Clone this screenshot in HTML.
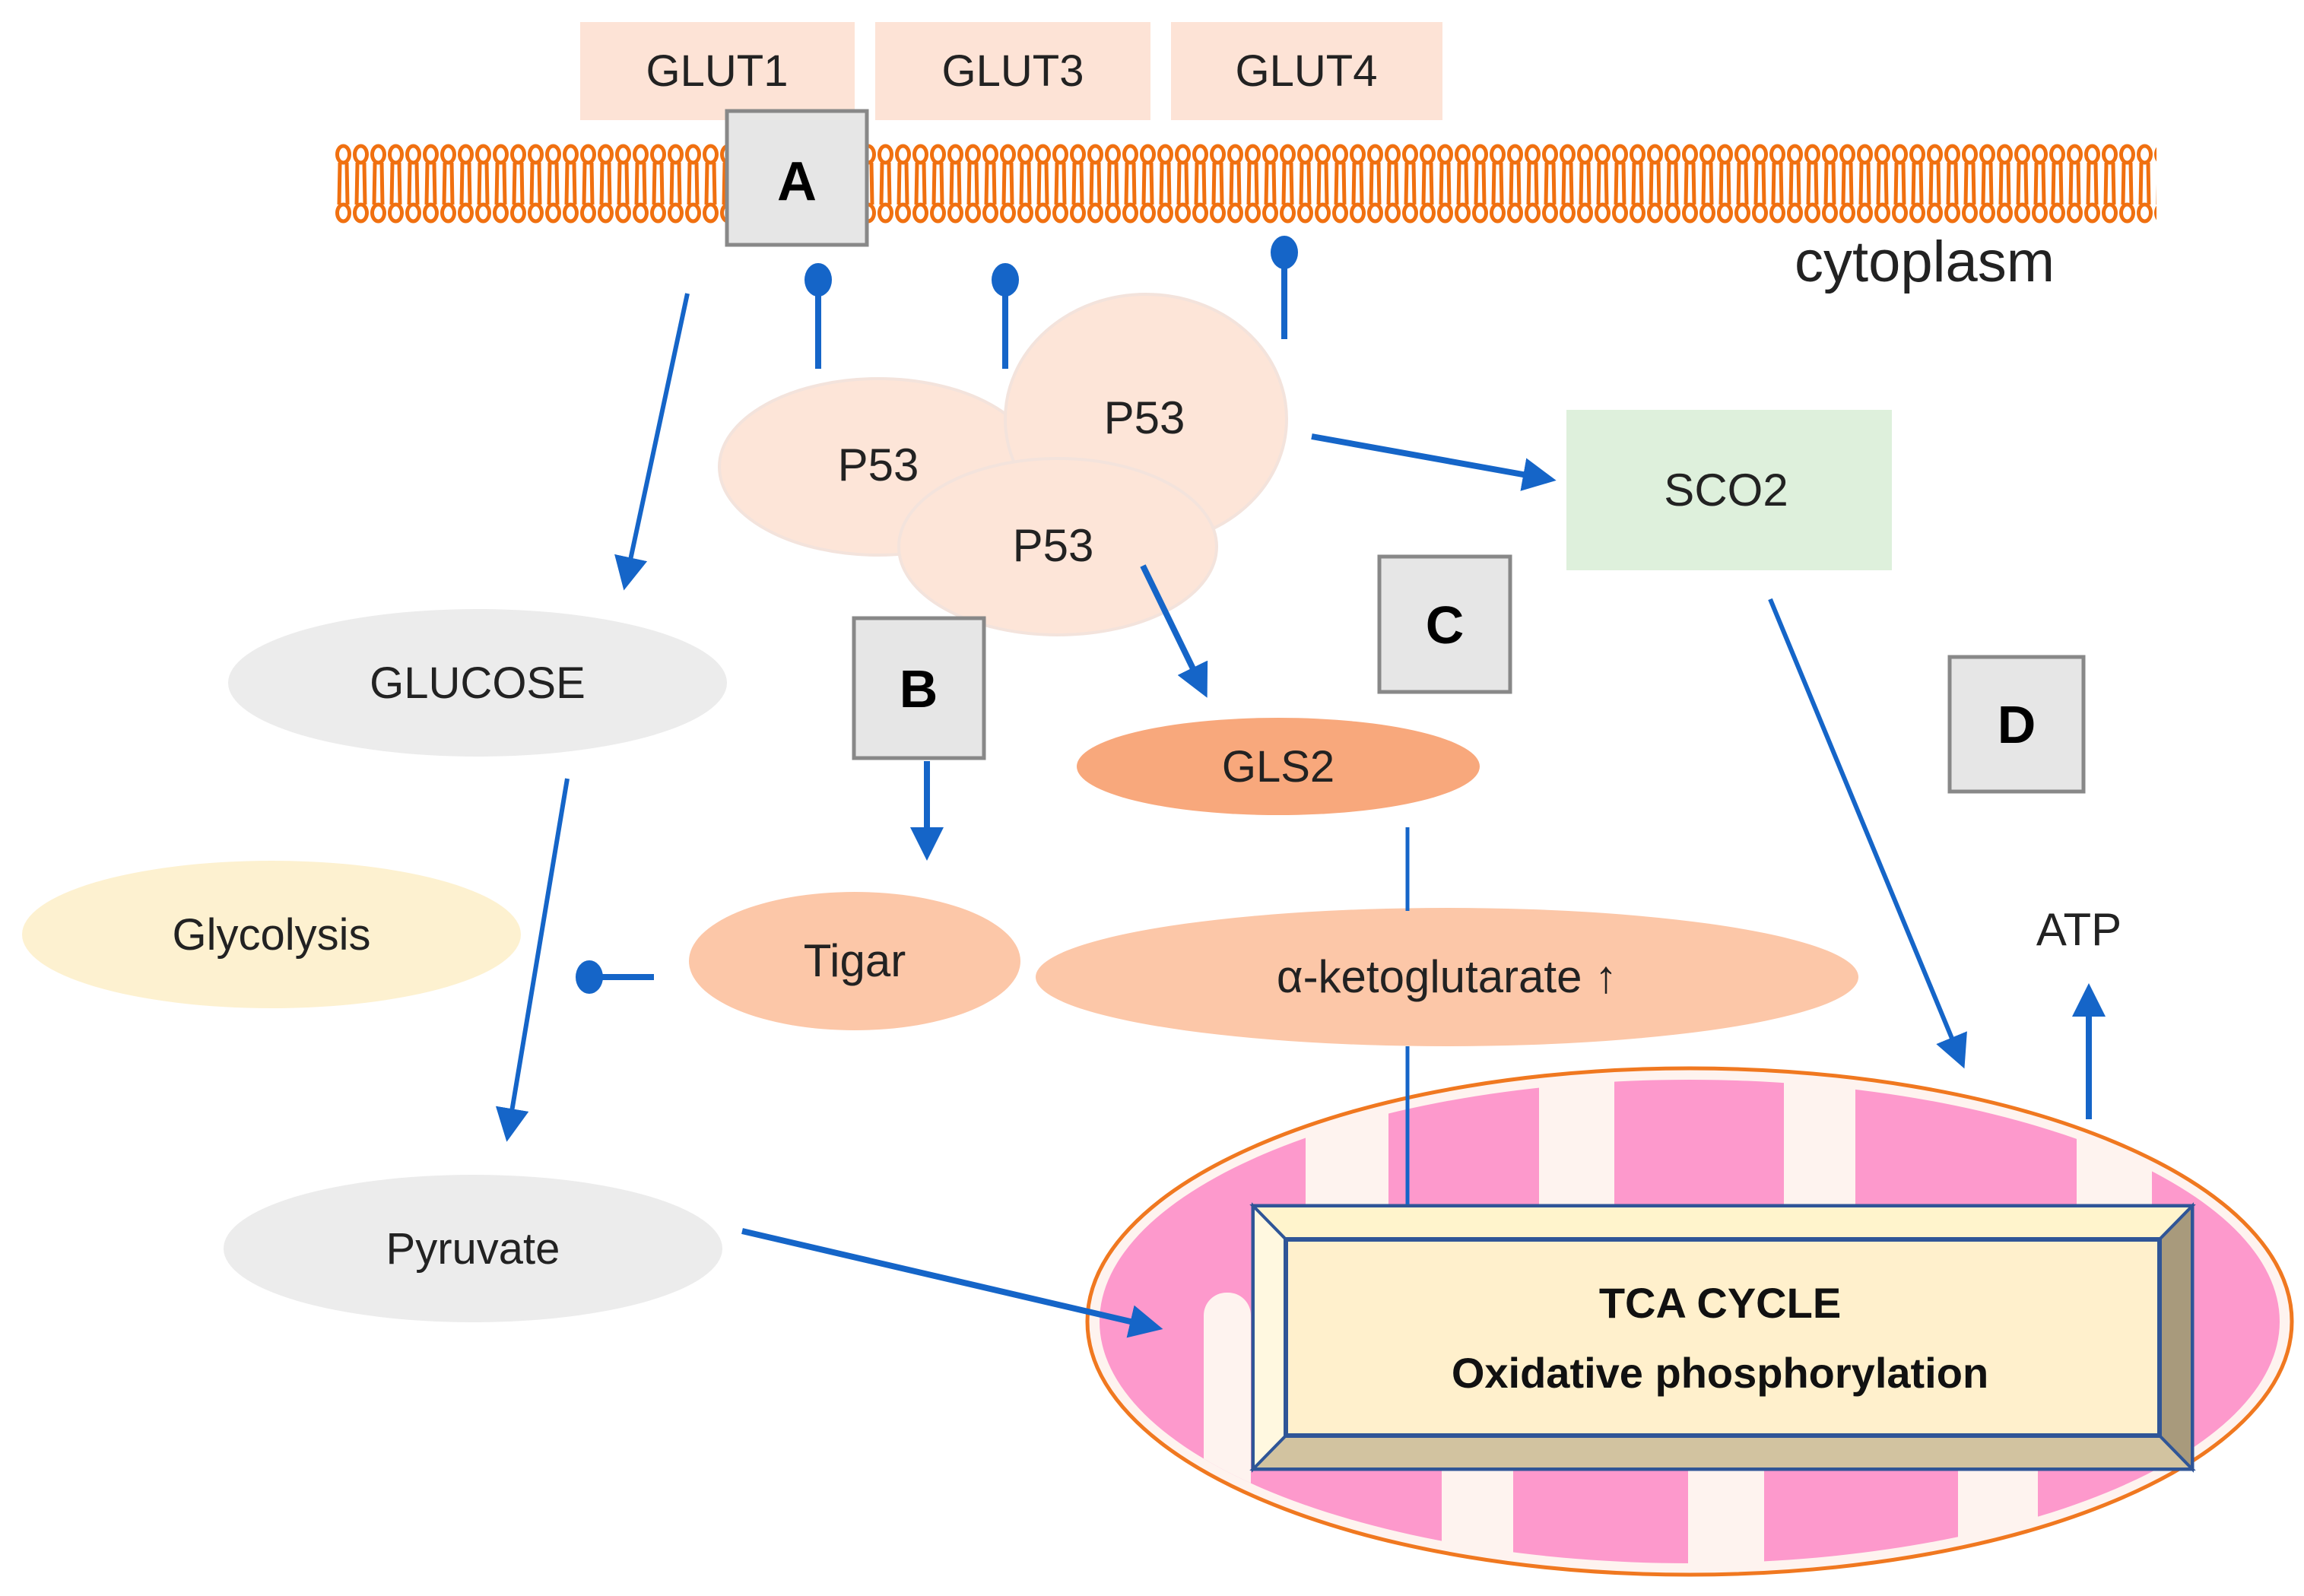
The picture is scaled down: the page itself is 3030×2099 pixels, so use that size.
<!DOCTYPE html>
<html><head><meta charset="utf-8"><style>html,body{margin:0;padding:0;background:#fff}svg{display:block}</style></head>
<body>
<svg width="3030" height="2099" viewBox="0 0 3030 2099" xmlns="http://www.w3.org/2000/svg" font-family="Liberation Sans, sans-serif">
<defs>
<pattern id="lip" x="440" y="0" width="23" height="2099" patternUnits="userSpaceOnUse">
<ellipse cx="11.5" cy="203" rx="8" ry="11" fill="#fff" stroke="#f07010" stroke-width="5"/>
<ellipse cx="11.5" cy="280" rx="8" ry="11" fill="#fff" stroke="#f07010" stroke-width="5"/>
<path d="M7 214 L6 269 M16 214 L17 269" stroke="#f07010" stroke-width="5"/>
</pattern>
<clipPath id="mc"><ellipse cx="2222" cy="1738" rx="776" ry="318"/></clipPath>
<marker id="ar" markerWidth="44" markerHeight="44" refX="5" refY="5" orient="auto" markerUnits="userSpaceOnUse" viewBox="0 0 10 10"><path d="M0 0 L10 5 L0 10 z" fill="#1565c8"/></marker>
</defs>
<rect x="763" y="29" width="361" height="129" fill="#fde3d6"/>
<rect x="1151" y="29" width="362" height="129" fill="#fde3d6"/>
<rect x="1540" y="29" width="357" height="129" fill="#fde3d6"/>
<g font-size="58" fill="#222" text-anchor="middle">
<text x="943" y="113">GLUT1</text><text x="1332" y="113">GLUT3</text><text x="1718" y="113">GLUT4</text>
</g>
<rect x="440" y="188" width="2396" height="106" fill="url(#lip)"/>
<rect x="956" y="146" width="184" height="176" fill="#e6e6e6" stroke="#888" stroke-width="5"/>
<text x="1048" y="263" font-size="72" font-weight="bold" text-anchor="middle">A</text>
<text x="2360" y="370" font-size="76" fill="#222">cytoplasm</text>
<g stroke="#1565c8" stroke-width="8" fill="#1565c8">
<line x1="1076" y1="485" x2="1076" y2="372"/><ellipse cx="1076" cy="368" rx="18" ry="22" stroke="none"/>
<line x1="1322" y1="485" x2="1322" y2="372"/><ellipse cx="1322" cy="368" rx="18" ry="22" stroke="none"/>
<line x1="1689" y1="446" x2="1689" y2="336"/><ellipse cx="1689" cy="332" rx="18" ry="22" stroke="none"/>
<line x1="860" y1="1285" x2="790" y2="1285"/><ellipse cx="775" cy="1285" rx="18" ry="22" stroke="none"/>
</g>
<g fill="#fde5d8" stroke="#f3e3dc" stroke-width="4">
<ellipse cx="1155" cy="614" rx="209" ry="116"/>
<ellipse cx="1507" cy="551" rx="185" ry="164"/>
<ellipse cx="1391" cy="719" rx="209" ry="116"/>
</g>
<g font-size="60" fill="#222" text-anchor="middle">
<text x="1155" y="632">P53</text><text x="1505" y="570">P53</text><text x="1385" y="738">P53</text>
</g>
<rect x="2060" y="539" width="428" height="211" fill="#def0dc"/>
<text x="2270" y="665" font-size="60" fill="#222" text-anchor="middle">SCO2</text>
<g fill="#e6e6e6" stroke="#888" stroke-width="5">
<rect x="1814" y="732" width="172" height="178"/>
<rect x="1123" y="813" width="171" height="184"/>
<rect x="2564" y="864" width="176" height="177"/>
</g>
<g font-size="70" font-weight="bold" text-anchor="middle">
<text x="1900" y="846">C</text><text x="1208" y="930">B</text><text x="2652" y="977">D</text>
</g>
<ellipse cx="628" cy="898" rx="328" ry="97" fill="#ececec"/>
<text x="628" y="918" font-size="58" fill="#222" text-anchor="middle">GLUCOSE</text>
<ellipse cx="357" cy="1229" rx="328" ry="97" fill="#fdf1d0"/>
<text x="357" y="1249" font-size="58" fill="#222" text-anchor="middle">Glycolysis</text>
<ellipse cx="622" cy="1642" rx="328" ry="97" fill="#ececec"/>
<text x="622" y="1662" font-size="58" fill="#222" text-anchor="middle">Pyruvate</text>
<ellipse cx="1124" cy="1264" rx="218" ry="91" fill="#fcc7a8"/>
<text x="1124" y="1284" font-size="60" fill="#222" text-anchor="middle">Tigar</text>
<ellipse cx="1681" cy="1008" rx="265" ry="64" fill="#f8a87c"/>
<text x="1681" y="1028" font-size="58" fill="#222" text-anchor="middle">GLS2</text>
<ellipse cx="1903" cy="1285" rx="541" ry="91" fill="#fcc7a8"/>
<text x="1903" y="1305" font-size="60" fill="#222" text-anchor="middle">α-ketoglutarate ↑</text>
<ellipse cx="2222" cy="1738" rx="792" ry="333" fill="#fef3ef" stroke="#f07820" stroke-width="5"/>
<g clip-path="url(#mc)">
<rect x="1400" y="1380" width="317" height="720" fill="#fd99cc"/>
<rect x="1826" y="1380" width="198" height="300" fill="#fd99cc"/>
<rect x="2123" y="1380" width="223" height="300" fill="#fd99cc"/>
<rect x="2440" y="1380" width="291" height="300" fill="#fd99cc"/>
<rect x="2830" y="1380" width="200" height="720" fill="#fd99cc"/>
<rect x="1645" y="1680" width="251" height="420" fill="#fd99cc"/>
<rect x="1990" y="1680" width="230" height="420" fill="#fd99cc"/>
<rect x="2320" y="1680" width="255" height="420" fill="#fd99cc"/>
<rect x="2680" y="1680" width="150" height="420" fill="#fd99cc"/>
<rect x="1583" y="1700" width="62" height="400" fill="#fef3ef" rx="30"/>
</g>
<rect x="1648" y="1586" width="1235" height="346" fill="#fff2cc" stroke="#2f5597" stroke-width="5"/>
<polygon points="1648,1586 2883,1586 2840,1630 1691,1630" fill="#fff4cc" stroke="#2f5597" stroke-width="4"/>
<polygon points="1648,1932 2883,1932 2840,1888 1691,1888" fill="#d2c3a0" stroke="#2f5597" stroke-width="4"/>
<polygon points="2883,1586 2883,1932 2840,1888 2840,1630" fill="#a89a7c" stroke="#2f5597" stroke-width="4"/>
<polygon points="1648,1586 1648,1932 1691,1888 1691,1630" fill="#fff8e0" stroke="#2f5597" stroke-width="4"/>
<rect x="1691" y="1630" width="1149" height="258" fill="#fff0cc" stroke="#2f5597" stroke-width="6"/>
<g font-size="56" font-weight="bold" text-anchor="middle" fill="#111">
<text x="2262" y="1733">TCA CYCLE</text><text x="2262" y="1825">Oxidative phosphorylation</text>
</g>
<g stroke="#1565c8" stroke-width="8" fill="none" marker-end="url(#ar)">
<line x1="904" y1="386" x2="825" y2="755" stroke-width="6"/>
<line x1="746" y1="1024" x2="670" y2="1480" stroke-width="6"/>
<line x1="1219" y1="1001" x2="1219" y2="1110"/>
<line x1="1503" y1="744" x2="1578" y2="898"/>
<line x1="1725" y1="574" x2="2025" y2="628"/>
<line x1="2328" y1="788" x2="2575" y2="1385" stroke-width="6"/>
<line x1="976" y1="1619" x2="1508" y2="1743"/>
<line x1="2747" y1="1472" x2="2747" y2="1315"/>
</g>
<g stroke="#1565c8" stroke-width="5">
<line x1="1851" y1="1088" x2="1851" y2="1198"/>
<line x1="1851" y1="1376" x2="1851" y2="1584"/>
</g>
<text x="2734" y="1243" font-size="60" fill="#222" text-anchor="middle">ATP</text>
</svg>
</body></html>
